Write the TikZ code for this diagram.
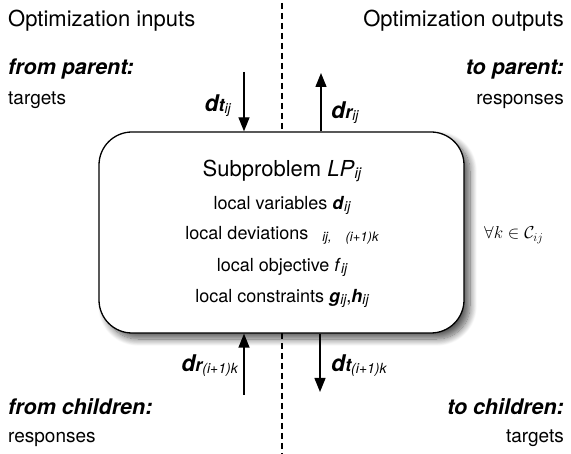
\documentclass[tikz,border=0pt]{standalone}
\usepackage{fontspec}
\setmainfont{TeX Gyre Heros}
\usetikzlibrary{arrows.meta,shadows.blur}
\newcommand\fsz[1]{\fontsize{#1}{#1}\selectfont}
\newcommand\mysub[2]{\raisebox{-2pt}{\fsz{#1}\itshape #2}}
\tikzset{
  title/.style={font=\fsz{22}, inner sep=0pt},
  head/.style={font=\fsz{21.5}\bfseries\itshape, inner sep=0pt},
  plain/.style={font=\fsz{19}, inner sep=0pt},
  boxline/.style={font=\fsz{18}, inner sep=0pt, anchor=base},
  flow/.style={line width=1.3pt, -{Triangle[width=11pt,length=14pt]}},
  sep/.style={line width=1.2pt, dash pattern=on 6pt off 4pt},
  sub/.style={draw, line width=1.3pt, fill=white, rounded corners=33pt,
    blur shadow={shadow xshift=6pt, shadow yshift=-6pt, shadow blur steps=12, shadow blur radius=7pt, shadow opacity=65}},
  lab/.style={inner sep=0pt},
}
\begin{document}
\begin{tikzpicture}[x=1pt,y=-1pt]
\useasboundingbox (0,0) rectangle (571,454);
% separator
\coordinate (st) at (282,3);
\coordinate (sb) at (282,454);
\draw[sep] (st) -- (sb);
% box
\node[sub, minimum width=365pt, minimum height=201pt] (box) at (281.5,232.5) {};
% headings
\node[title, anchor=base west] (tin) at (8,27) {Optimization inputs};
\node[title, anchor=base east] (tout) at (564,27) {Optimization outputs};
\node[head, anchor=base west] (fp) at (8,75) {from parent:};
\node[plain, anchor=base west] (fpt) at (8,105) {targets};
\node[head, anchor=base east] (tp) at (564,75) {to parent:};
\node[plain, anchor=base east] (tpr) at (564,105) {responses};
\node[head, anchor=base west] (fc) at (8,415) {from children:};
\node[plain, anchor=base west] (fcr) at (8,443) {responses};
\node[head, anchor=base east] (tc) at (564,415) {to children:};
\node[plain, anchor=base east] (tct) at (564,443) {targets};
% box contents
\node[boxline, font=\fsz{22}] (l1) at (282,177) {Subproblem \textit{LP}\mysub{15}{ij}};
\node[boxline] (l2) at (282,210) {local variables \textbf{\textit{d}}\mysub{14}{ij}};
\node[boxline] (l3) at (282,240) {local deviations\hspace{14pt}\mysub{13}{ij,}\hspace{14pt}\mysub{13}{(i+1)k}};
\node[boxline] (l4) at (282,272) {local objective \textit{f}\mysub{14}{ij}};
\node[boxline] (l5) at (282,303) {local constraints \textbf{\textit{g}}\mysub{14}{ij},\textbf{\textit{h}}\mysub{14}{ij}};
\node[lab, anchor=base west, font=\fsz{17}] (fa) at (484,239) {$\forall k\in\mathcal{C}_{ij}$};
% arrows top
\coordinate (a1s) at (244,72);
\coordinate (a2e) at (321,73);
\draw[flow] (a1s) -- (a1s |- box.north);
\draw[flow] (a2e |- box.north) -- (a2e);
\node[lab, anchor=base east] (dtij) at (231,112) {\fsz{23}\bfseries\itshape d\fsz{18}t\mysub{14}{\mdseries ij}};
\node[lab, anchor=base west] (drij) at (331,119) {\fsz{23}\bfseries\itshape d\fsz{18}r\mysub{14}{\mdseries ij}};
% arrows bottom
\coordinate (b1s) at (244,395);
\coordinate (b2e) at (320,392);
\draw[flow] (b1s) -- (b1s |- box.south);
\draw[flow] (b2e |- box.south) -- (b2e);
\node[lab, anchor=base east] (drk) at (238,372) {\fsz{23}\bfseries\itshape d\fsz{18}r\mysub{14}{\mdseries (i+1)k}};
\node[lab, anchor=base west] (dtk) at (331,372) {\fsz{23}\bfseries\itshape d\fsz{18}t\mysub{14}{\mdseries (i+1)k}};
\end{tikzpicture}
\end{document}
